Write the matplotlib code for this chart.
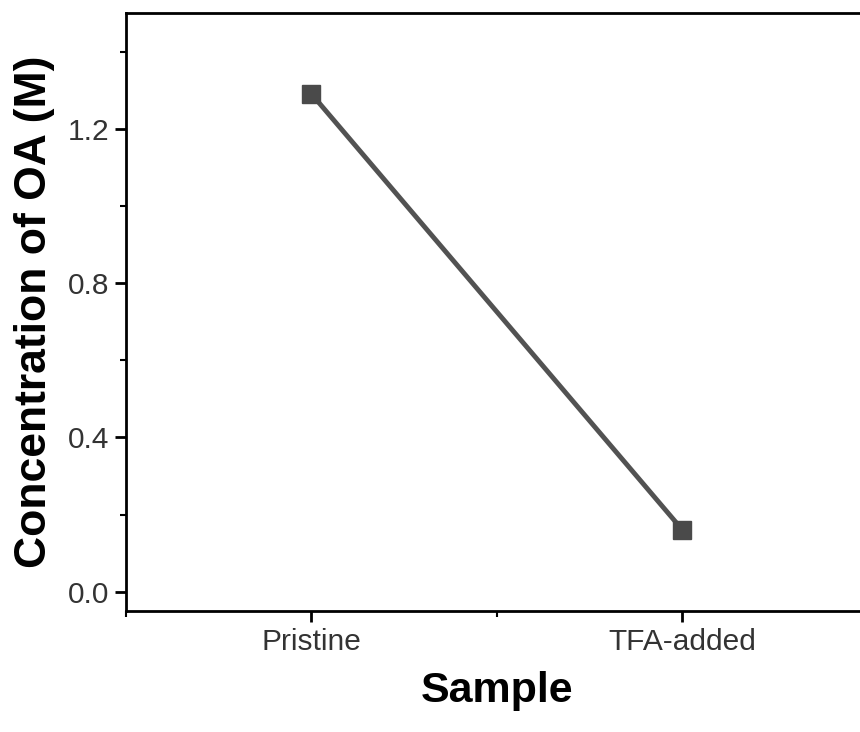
import matplotlib.pyplot as plt
from matplotlib.ticker import MultipleLocator

samples = ['Pristine', 'TFA-added']
oa_conc = [1.29, 0.16]

plt.rcParams['font.family'] = ['Liberation Sans', 'DejaVu Sans']

fig = plt.figure(figsize=(8.6, 7.32), dpi=100)
ax = fig.add_axes([0.1465, 0.1653, 0.8628, 0.817])

xpos = [1, 2]
ax.plot(xpos, oa_conc, color='#525252', linewidth=3.5,
        marker='s', markersize=13.5, markerfacecolor='#4a4a4a', markeredgecolor='#4a4a4a')

ax.set_xlim(0.5, 2.5)
ax.set_ylim(-0.05, 1.5)
ax.set_xticks(xpos)
ax.set_xticklabels(samples)
ax.xaxis.set_minor_locator(MultipleLocator(0.5))
ax.yaxis.set_major_locator(MultipleLocator(0.4))
ax.yaxis.set_minor_locator(MultipleLocator(0.2))

for s in ax.spines.values():
    s.set_linewidth(2)
ax.tick_params(which='major', direction='out', length=8, width=2,
               labelsize=21.5, labelcolor='#333333', pad=4)
ax.tick_params(which='minor', direction='out', length=4, width=1.5)

ax.set_xlabel('Sample', fontsize=31, fontweight='bold', labelpad=11)
ax.set_ylabel('Concentration of OA (M)', fontsize=32, fontweight='bold', labelpad=9)

fig.savefig('out.png', dpi=100)
